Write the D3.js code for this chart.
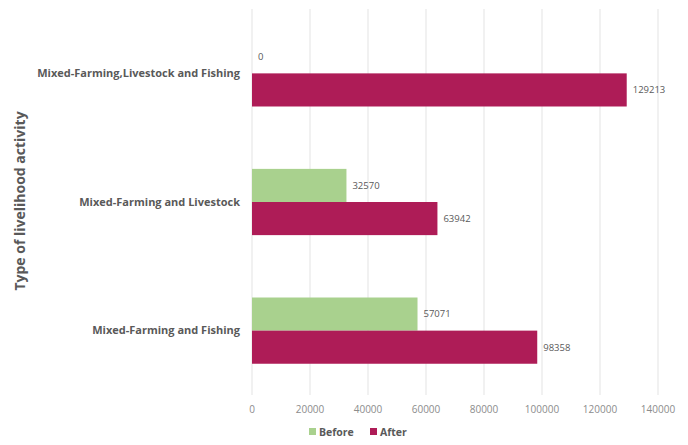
<!DOCTYPE html>
<html>
<head>
<meta charset="utf-8">
<script src="https://cdn.jsdelivr.net/npm/d3@7"></script>
<style>
  body { margin: 0; background: #fff; }
  svg { display: block; font-family: "Open Sans", sans-serif; }
</style>
</head>
<body>
<div id="chart"></div>
<script>
// Chart data
const categories = ["Mixed-Farming,Livestock and Fishing", "Mixed-Farming and Livestock", "Mixed-Farming and Fishing"];
const seriesNames = ["Before", "After"];
const beforeValues = [0, 32570, 57071];
const afterValues = [129213, 63942, 98358];
const xTicks = [0, 20000, 40000, 60000, 80000, 100000, 120000, 140000];
const colors = { Before: "#a9d18e", After: "#ae1c57" };

const width = 688, height = 445;
const margin = { top: 9, right: 30, bottom: 50, left: 252 };
const plotW = 658 - margin.left;
const plotH = 395 - margin.top;

const svg = d3.select("#chart").append("svg")
    .attr("width", width)
    .attr("height", height);

const g = svg.append("g")
    .attr("transform", `translate(${margin.left},${margin.top})`);

const x = d3.scaleLinear().domain([0, 140000]).range([0, plotW]);
const y = d3.scaleBand().domain(categories).range([0, plotH]).paddingInner(0.485).paddingOuter(0.243);
const ySub = d3.scaleBand().domain(seriesNames).range([0, y.bandwidth()]);

// Gridlines
g.selectAll("line.grid")
    .data(xTicks)
    .enter()
    .append("line")
    .attr("class", "grid")
    .attr("x1", d => x(d))
    .attr("x2", d => x(d))
    .attr("y1", 0)
    .attr("y2", plotH)
    .attr("stroke", "#e3e3e3")
    .attr("stroke-width", 1);

// Tick labels
g.selectAll("text.tick")
    .data(xTicks)
    .enter()
    .append("text")
    .attr("class", "tick")
    .attr("x", d => x(d))
    .attr("y", plotH + 18)
    .attr("text-anchor", "middle")
    .style("font-size", "10px")
    .style("fill", "#8c8c8c")
    .text(d => d);

const rows = categories.map((c, i) => ({ cat: c, values: [
    { key: "Before", value: beforeValues[i] },
    { key: "After", value: afterValues[i] }
]}));

const groups = g.selectAll("g.row")
    .data(rows)
    .enter()
    .append("g")
    .attr("transform", d => `translate(0,${y(d.cat)})`);

groups.selectAll("rect")
    .data(d => d.values)
    .enter()
    .append("rect")
    .attr("x", 0)
    .attr("y", d => ySub(d.key))
    .attr("width", d => x(d.value))
    .attr("height", ySub.bandwidth())
    .attr("fill", d => colors[d.key]);

groups.selectAll("text.val")
    .data(d => d.values)
    .enter()
    .append("text")
    .attr("class", "val")
    .attr("x", d => x(d.value) + 6)
    .attr("y", d => ySub(d.key) + ySub.bandwidth() / 2)
    .attr("dy", "0.35em")
    .style("font-size", "9.5px")
    .style("fill", "#595959")
    .text(d => d.value);

// Category labels
g.selectAll("text.cat")
    .data(categories)
    .enter()
    .append("text")
    .attr("class", "cat")
    .attr("x", -12)
    .attr("y", d => y(d) + y.bandwidth() / 2)
    .attr("dy", "0.35em")
    .attr("text-anchor", "end")
    .style("font-size", "11px")
    .style("font-weight", "bold")
    .style("fill", "#595959")
    .text(d => d);

// Axis title
svg.append("text")
    .attr("transform", `translate(25,${margin.top + plotH / 2 - 1}) rotate(-90)`)
    .attr("text-anchor", "middle")
    .style("font-size", "14px")
    .style("font-weight", "bold")
    .style("fill", "#595959")
    .text("Type of livelihood activity");

// Legend
const legend = svg.append("g").attr("transform", "translate(309,432)");
const legendX = { Before: 0, After: 61 };
seriesNames.forEach(name => {
    const item = legend.append("g").attr("transform", `translate(${legendX[name]},0)`);
    item.append("rect")
        .attr("x", 0).attr("y", -4)
        .attr("width", 7).attr("height", 7)
        .attr("fill", colors[name]);
    item.append("text")
        .attr("x", 10).attr("y", 0)
        .attr("dy", "0.35em")
        .style("font-size", "10.5px")
        .style("font-weight", "bold")
        .style("fill", "#595959")
        .text(name);
});
</script>
</body>
</html>
